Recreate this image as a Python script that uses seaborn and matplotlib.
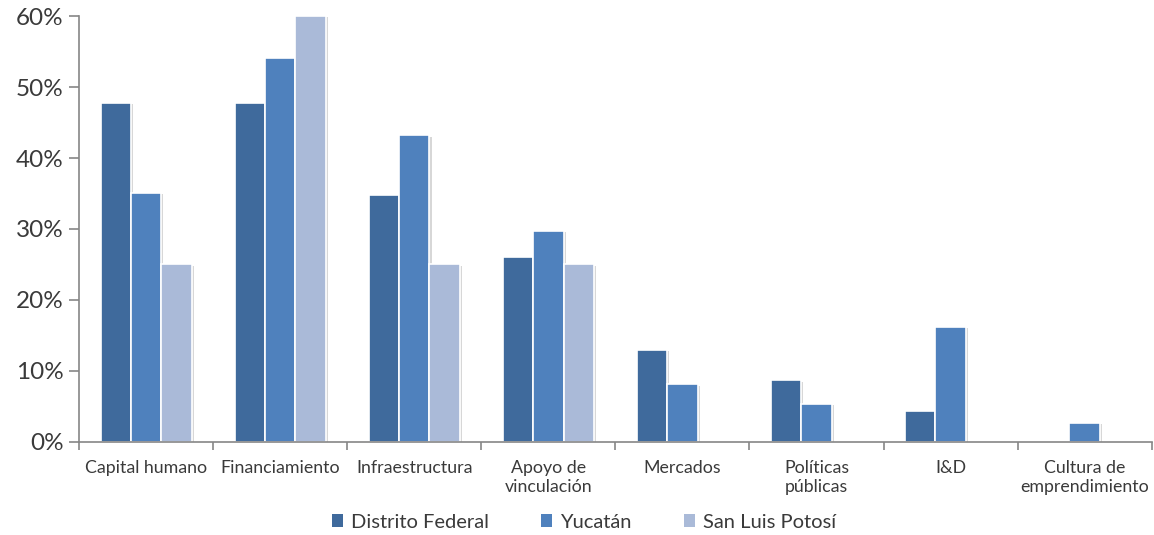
import numpy as np
import pandas as pd
import matplotlib
matplotlib.use("Agg")
import matplotlib.pyplot as plt
import seaborn as sns
from matplotlib.ticker import PercentFormatter, FixedLocator
from matplotlib import patheffects as pe
from matplotlib.patches import Patch

categories = ["Capital humano", "Financiamiento", "Infraestructura", "Apoyo de\nvinculación",
              "Mercados", "Políticas\npúblicas", "I&D", "Cultura de\nemprendimiento"]
series_names = ["Distrito Federal", "Yucatán", "San Luis Potosí"]
distrito_federal = [47.8, 47.8, 34.8, 26.1, 13.0, 8.7, 4.3, np.nan]
yucatan = [35.1, 54.1, 43.2, 29.7, 8.1, 5.4, 16.2, 2.7]
san_luis_potosi = [25.0, 60.0, 25.0, 25.0, np.nan, np.nan, np.nan, np.nan]
colors = ["#3F6A9C", "#4F81BD", "#AABAD8"]

rows = []
for name, vals in zip(series_names, [distrito_federal, yucatan, san_luis_potosi]):
    for c, v in zip(categories, vals):
        rows.append({"cat": c, "serie": name, "val": v})
df = pd.DataFrame(rows)

sns.set_theme(style="white")
plt.rcParams["font.family"] = ["Lato", "DejaVu Sans"]

fig, ax = plt.subplots(figsize=(11.54, 5.35), dpi=100)
fig.subplots_adjust(left=0.0685, right=0.998, top=0.970, bottom=0.174)

sns.barplot(data=df, x="cat", y="val", hue="serie", order=categories, hue_order=series_names,
            palette=colors, width=0.68, errorbar=None, edgecolor="white", linewidth=1.2,
            saturation=1, ax=ax, legend=False)

for p in ax.patches:
    p.set_path_effects([pe.SimplePatchShadow(offset=(1.5, -1.0), shadow_rgbFace="#b0b0b0", alpha=0.5), pe.Normal()])

ax.set_ylim(0, 60)
ax.set_xlim(-0.5, len(categories) - 0.5)
ax.yaxis.set_major_locator(FixedLocator([0, 10, 20, 30, 40, 50, 60]))
ax.yaxis.set_major_formatter(PercentFormatter(100, decimals=0))
ax.set_xlabel("")
ax.set_ylabel("")

for s in ["top", "right"]:
    ax.spines[s].set_visible(False)
for s in ["left", "bottom"]:
    ax.spines[s].set_color("#868686")
    ax.spines[s].set_linewidth(1.2)

ax.tick_params(axis="y", which="major", direction="out", length=7, width=1.2, color="#868686",
               labelsize=17.5, labelcolor="#3a3a3a", left=True, pad=4)
ax.tick_params(axis="x", which="major", length=0, labelsize=12.8, labelcolor="#3a3a3a", pad=13)
ax.set_xticks(np.arange(-0.5, len(categories)), minor=True)
ax.tick_params(axis="x", which="minor", direction="out", length=6, width=1.2, color="#868686", bottom=True)
for lbl in ax.get_xticklabels():
    lbl.set_multialignment("center")

handles = [Patch(facecolor=c, edgecolor="none") for c in colors]
fig.legend(handles, series_names, loc="center", bbox_to_anchor=(0.506, 0.024), ncol=3, frameon=False,
           fontsize=14.5, handlelength=0.55, handleheight=0.55, handletextpad=0.4, columnspacing=2.6,
           labelcolor="#3a3a3a")

fig.savefig("out.png", dpi=100)
